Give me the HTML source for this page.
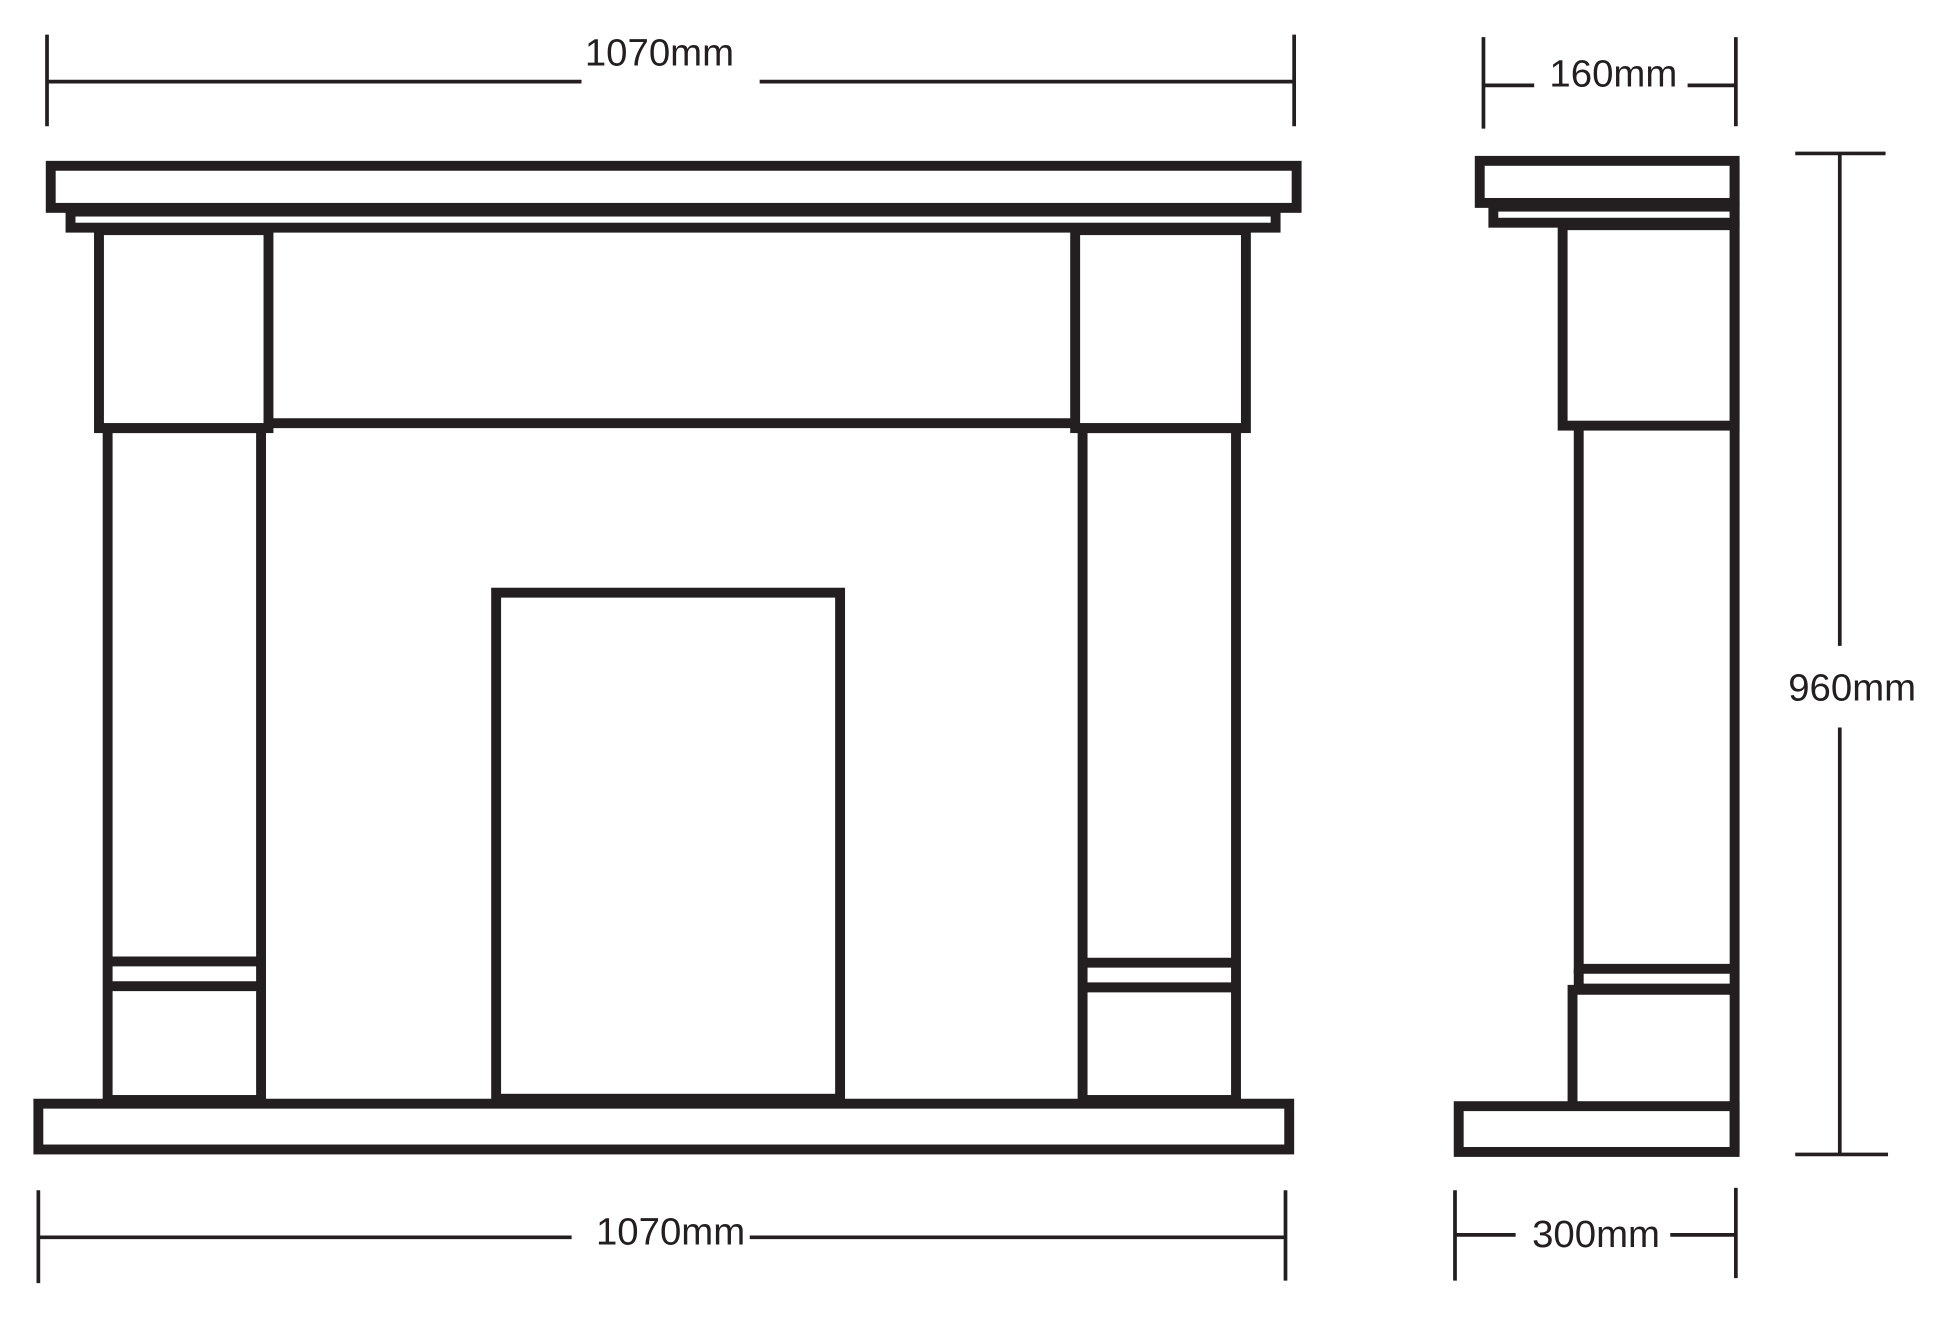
<!DOCTYPE html>
<html><head><meta charset="utf-8"><style>
html,body{margin:0;padding:0;background:#fff;}
svg{display:block;}
text{font-family:"Liberation Sans",sans-serif;font-size:31px;fill:#231f20;}
</style></head><body>
<svg width="1940" height="1342" viewBox="0 0 1568 1084.6" preserveAspectRatio="none" xmlns="http://www.w3.org/2000/svg">
<g fill="none" stroke="#231f20" stroke-width="8" stroke-linejoin="miter">
<!-- front view -->
<rect x="41" y="134" width="1007" height="34"/>
<rect x="57" y="171" width="974" height="13"/>
<rect x="80" y="186" width="137" height="160"/>
<rect x="869" y="186" width="138" height="160"/>
<line x1="217" y1="342" x2="869" y2="342"/>
<rect x="87" y="346" width="124" height="543"/>
<line x1="87" y1="777" x2="211" y2="777"/>
<line x1="87" y1="797" x2="211" y2="797"/>
<rect x="875" y="346" width="124" height="543"/>
<line x1="875" y1="778" x2="999" y2="778"/>
<line x1="875" y1="798" x2="999" y2="798"/>
<rect x="401" y="479" width="278" height="409"/>
<rect x="31" y="892" width="1011" height="37"/>
<!-- side view -->
<rect x="1196" y="130" width="206" height="34"/>
<rect x="1207" y="167" width="195" height="13"/>
<rect x="1263" y="182" width="139" height="162"/>
<polyline points="1276,344 1276,783 1402,783"/>
<line x1="1276" y1="799" x2="1402" y2="799"/>
<polyline points="1276,783 1276,799"/>
<polyline points="1271,893 1271,800 1402,800"/>
<line x1="1402" y1="130" x2="1402" y2="931"/>
<rect x="1179" y="894" width="223" height="37"/>
</g>
<g fill="none" stroke="#231f20" stroke-width="3">
<line x1="38" y1="28" x2="38" y2="102"/>
<line x1="1046" y1="28" x2="1046" y2="102"/>
<line x1="38" y1="66" x2="470" y2="66"/>
<line x1="614" y1="66" x2="1046" y2="66"/>
<line x1="31" y1="962" x2="31" y2="1037"/>
<line x1="1039" y1="962" x2="1039" y2="1035"/>
<line x1="31" y1="1000" x2="462" y2="1000"/>
<line x1="606" y1="1000" x2="1039" y2="1000"/>
<line x1="1199" y1="30" x2="1199" y2="104"/>
<line x1="1403" y1="30" x2="1403" y2="102"/>
<line x1="1199" y1="69" x2="1240" y2="69"/>
<line x1="1364" y1="69" x2="1403" y2="69"/>
<line x1="1176" y1="962" x2="1176" y2="1035"/>
<line x1="1403" y1="960" x2="1403" y2="1033"/>
<line x1="1176" y1="998" x2="1225" y2="998"/>
<line x1="1350" y1="998" x2="1403" y2="998"/>
<line x1="1487" y1="124" x2="1487" y2="522"/>
<line x1="1487" y1="588" x2="1487" y2="933"/>
<line x1="1451" y1="124" x2="1524" y2="124"/>
<line x1="1451" y1="933" x2="1526" y2="933"/>
</g>
<text x="533" y="53" text-anchor="middle">1070mm</text>
<text x="542" y="1006" text-anchor="middle">1070mm</text>
<text x="1304" y="70" text-anchor="middle">160mm</text>
<text x="1290" y="1008" text-anchor="middle">300mm</text>
<text x="1497" y="566" text-anchor="middle">960mm</text>
</svg>
</body></html>
